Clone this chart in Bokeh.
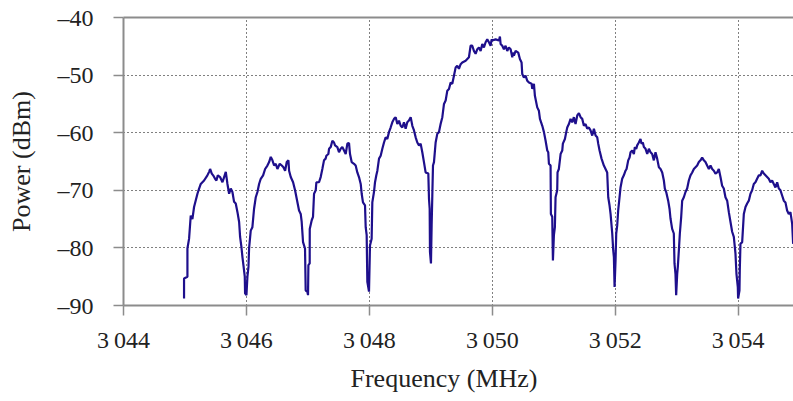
from bokeh.plotting import figure
from bokeh.models import Range1d, LinearAxis, FixedTicker, CustomJSTickFormatter, Title
from bokeh.embed import file_html
from bokeh.resources import INLINE

# ---- data: spectrum trace, (frequency MHz, power dBm) ----
trace_3045_3047 = [
    (3044.985, -88.8), (3044.985, -85.3), (3045.040, -85.0), (3045.040, -80.1), (3045.067, -78.4),
    (3045.094, -74.4), (3045.121, -75.0), (3045.148, -72.9), (3045.203, -70.6), (3045.230, -69.7),
    (3045.257, -68.9), (3045.311, -68.3), (3045.365, -67.4), (3045.393, -66.8), (3045.409, -66.3),
    (3045.436, -67.1), (3045.458, -67.4), (3045.490, -68.0), (3045.512, -68.3), (3045.534, -67.4),
    (3045.571, -67.7), (3045.610, -68.6), (3045.637, -67.7), (3045.664, -66.8), (3045.691, -68.9),
    (3045.718, -70.6), (3045.745, -69.7), (3045.772, -70.3), (3045.799, -72.0), (3045.826, -72.3),
    (3045.854, -73.8), (3045.881, -75.5), (3045.897, -78.1), (3045.918, -79.8), (3045.935, -81.6),
    (3045.951, -83.0), (3045.973, -85.0), (3045.978, -87.9), (3046.000, -88.2), (3046.016, -85.0),
    (3046.033, -83.3), (3046.043, -80.1), (3046.070, -77.0), (3046.097, -76.4), (3046.124, -73.2),
    (3046.152, -71.2), (3046.179, -70.3), (3046.206, -68.9), (3046.233, -68.0), (3046.271, -67.4),
    (3046.304, -66.3), (3046.341, -65.7), (3046.369, -65.1), (3046.396, -64.2), (3046.423, -64.8),
    (3046.450, -65.7), (3046.477, -65.4), (3046.504, -66.3), (3046.542, -65.4), (3046.575, -65.7),
    (3046.602, -66.0), (3046.629, -66.6), (3046.656, -65.1), (3046.683, -64.8), (3046.694, -66.6),
    (3046.721, -67.7), (3046.759, -68.6), (3046.791, -70.0),
]
trace_3047_3049 = [
    (3046.856, -73.5), (3046.883, -74.1), (3046.899, -75.5), (3046.921, -79.0), (3046.953, -80.1),
    (3046.964, -87.4), (3046.991, -87.6), (3047.002, -88.2), (3047.008, -83.0), (3047.029, -82.7),
    (3047.030, -76.7), (3047.062, -75.2), (3047.083, -74.6), (3047.100, -70.6), (3047.127, -70.0),
    (3047.138, -68.6), (3047.181, -68.6), (3047.208, -67.7), (3047.235, -66.3), (3047.262, -64.8),
    (3047.289, -64.5), (3047.300, -64.0), (3047.333, -63.7), (3047.344, -62.8), (3047.371, -62.5),
    (3047.398, -61.4), (3047.425, -61.7), (3047.441, -62.2), (3047.479, -62.5), (3047.506, -63.4),
    (3047.533, -62.8), (3047.560, -62.5), (3047.588, -63.1), (3047.615, -63.7), (3047.642, -61.9),
    (3047.669, -61.8), (3047.685, -63.7), (3047.712, -65.1), (3047.750, -65.4), (3047.777, -65.7),
    (3047.804, -66.9), (3047.831, -67.7), (3047.859, -68.9), (3047.875, -70.6), (3047.896, -72.1),
    (3047.929, -72.6), (3047.940, -76.4), (3047.956, -77.8), (3047.967, -85.9), (3047.994, -87.6),
    (3048.010, -79.6), (3048.037, -78.4), (3048.048, -72.1), (3048.075, -70.3), (3048.092, -68.6),
    (3048.113, -67.4), (3048.130, -66.6), (3048.157, -64.5), (3048.184, -64.0), (3048.211, -62.8),
    (3048.238, -61.7), (3048.265, -60.8), (3048.292, -61.1), (3048.319, -59.9), (3048.346, -59.1),
    (3048.373, -58.2), (3048.401, -57.6), (3048.428, -57.3), (3048.455, -58.5), (3048.482, -57.9),
    (3048.509, -58.8), (3048.536, -59.1), (3048.563, -58.2), (3048.590, -59.3), (3048.617, -58.2),
    (3048.644, -57.9), (3048.672, -57.3), (3048.699, -58.8), (3048.726, -59.6), (3048.753, -60.8),
    (3048.780, -61.7), (3048.807, -62.2), (3048.834, -61.9), (3048.861, -63.4), (3048.888, -65.1),
    (3048.915, -66.9),
]
trace_3049_3051 = [
    (3048.959, -67.1), (3048.970, -71.5), (3048.981, -73.2), (3048.986, -80.7), (3049.002, -82.7),
    (3049.013, -76.1), (3049.024, -70.9), (3049.035, -65.7), (3049.051, -65.1), (3049.078, -61.7),
    (3049.105, -60.2), (3049.132, -59.9), (3049.159, -58.5), (3049.187, -57.3), (3049.214, -55.0),
    (3049.241, -54.4), (3049.268, -52.7), (3049.295, -52.4), (3049.322, -51.3), (3049.349, -51.5),
    (3049.376, -50.1), (3049.403, -48.7), (3049.430, -48.4), (3049.457, -48.9), (3049.485, -48.1),
    (3049.512, -47.8), (3049.566, -47.5), (3049.620, -46.9), (3049.647, -44.9), (3049.674, -44.9),
    (3049.701, -45.8), (3049.728, -46.3), (3049.756, -45.5), (3049.783, -45.2), (3049.810, -45.8),
    (3049.837, -44.6), (3049.864, -45.2), (3049.891, -44.3), (3049.918, -43.8), (3049.945, -44.3),
    (3049.972, -44.9), (3049.989, -43.8), (3049.999, -44.0), (3050.054, -43.8), (3050.108, -44.0),
    (3050.124, -43.3), (3050.135, -44.6), (3050.162, -44.9), (3050.189, -45.5), (3050.216, -44.9),
    (3050.243, -45.8), (3050.270, -45.2), (3050.298, -45.5), (3050.325, -46.9), (3050.335, -46.1),
    (3050.352, -46.6), (3050.379, -45.8), (3050.422, -46.1), (3050.449, -47.2), (3050.476, -47.8),
    (3050.487, -49.8), (3050.514, -50.4), (3050.541, -50.1), (3050.569, -51.0), (3050.596, -51.3),
    (3050.639, -51.5), (3050.650, -52.4), (3050.677, -51.5), (3050.693, -53.6), (3050.731, -55.6),
    (3050.758, -56.2), (3050.775, -57.6), (3050.813, -58.8), (3050.840, -59.9), (3050.867, -61.4),
    (3050.894, -63.1), (3050.910, -63.4), (3050.921, -65.4), (3050.948, -65.7), (3050.953, -74.1),
    (3050.975, -74.6), (3050.986, -82.2), (3051.002, -77.8), (3051.018, -76.4), (3051.029, -71.2),
    (3051.056, -70.0), (3051.061, -66.9), (3051.083, -66.3),
]
trace_3051_3053 = [
    (3051.111, -63.7), (3051.138, -63.1), (3051.148, -61.9), (3051.181, -61.1), (3051.203, -59.9),
    (3051.219, -59.1), (3051.246, -58.5), (3051.273, -57.6), (3051.300, -58.2), (3051.327, -57.3),
    (3051.354, -58.5), (3051.382, -57.0), (3051.409, -56.6), (3051.436, -57.3), (3051.463, -57.6),
    (3051.490, -58.8), (3051.517, -58.5), (3051.544, -59.3), (3051.571, -59.1), (3051.598, -59.6),
    (3051.626, -60.5), (3051.653, -59.3), (3051.680, -60.5), (3051.707, -60.8), (3051.723, -61.9),
    (3051.745, -63.1), (3051.777, -64.5), (3051.815, -65.7), (3051.842, -66.3), (3051.869, -66.9),
    (3051.886, -71.2), (3051.907, -72.6), (3051.924, -74.1), (3051.951, -77.5), (3051.967, -80.4),
    (3051.978, -81.6), (3051.989, -86.8), (3052.005, -82.2), (3052.016, -77.5), (3052.032, -76.1),
    (3052.048, -73.5), (3052.070, -71.2), (3052.086, -69.5), (3052.113, -68.0), (3052.140, -67.4),
    (3052.167, -66.6), (3052.184, -66.3), (3052.211, -64.8), (3052.233, -64.3), (3052.249, -63.4),
    (3052.276, -63.1), (3052.303, -63.7), (3052.319, -62.5), (3052.341, -62.8), (3052.357, -62.2),
    (3052.384, -61.7), (3052.411, -61.1), (3052.428, -61.9), (3052.449, -61.7), (3052.466, -62.5),
    (3052.493, -62.8), (3052.520, -63.7), (3052.547, -62.8), (3052.574, -63.4), (3052.601, -63.7),
    (3052.628, -64.8), (3052.655, -63.4), (3052.682, -64.5), (3052.710, -66.0), (3052.737, -66.3),
    (3052.764, -66.9), (3052.791, -68.3), (3052.807, -69.7), (3052.829, -70.3), (3052.861, -71.8),
    (3052.883, -73.2),
]
trace_3053_3055 = [
    (3052.899, -74.9), (3052.926, -76.7), (3052.953, -77.5), (3052.964, -82.7), (3052.980, -84.5),
    (3052.991, -88.2), (3053.008, -84.5), (3053.018, -83.3), (3053.035, -80.4), (3053.051, -77.5),
    (3053.073, -74.6), (3053.089, -71.8), (3053.116, -71.2), (3053.143, -70.3), (3053.170, -69.7),
    (3053.197, -68.3), (3053.224, -67.4), (3053.252, -66.9), (3053.279, -66.3), (3053.306, -66.0),
    (3053.333, -65.7), (3053.360, -65.1), (3053.387, -64.8), (3053.414, -64.3), (3053.441, -64.8),
    (3053.468, -65.1), (3053.495, -65.7), (3053.523, -66.3), (3053.550, -65.7), (3053.577, -66.3),
    (3053.604, -66.6), (3053.631, -67.1), (3053.658, -66.9), (3053.685, -66.3), (3053.712, -67.7),
    (3053.739, -69.2), (3053.766, -69.7), (3053.793, -71.2), (3053.821, -71.8), (3053.848, -73.8),
    (3053.875, -75.5), (3053.902, -77.2), (3053.929, -78.1), (3053.956, -81.0), (3053.972, -84.5),
    (3053.994, -86.8), (3053.999, -88.8), (3054.021, -87.4), (3054.026, -83.9), (3054.037, -79.3),
    (3054.065, -79.0), (3054.092, -74.1), (3054.119, -72.9), (3054.146, -72.3), (3054.173, -71.8),
    (3054.200, -70.6), (3054.227, -70.0), (3054.254, -68.9), (3054.281, -68.6), (3054.308, -68.0),
    (3054.336, -67.4), (3054.363, -67.4), (3054.390, -66.6), (3054.417, -67.1), (3054.444, -67.4),
    (3054.471, -67.7), (3054.498, -68.0), (3054.525, -68.6), (3054.552, -68.3), (3054.579, -68.9),
    (3054.606, -69.5), (3054.634, -68.6), (3054.661, -69.7), (3054.688, -70.0), (3054.715, -70.9),
    (3054.742, -71.8), (3054.769, -72.1), (3054.796, -73.5), (3054.823, -74.1), (3054.850, -73.8),
    (3054.878, -75.8), (3054.894, -79.3),
]

x_ticks = [3044, 3046, 3048, 3050, 3052, 3054]
y_ticks = [-90, -80, -70, -60, -50, -40]
x_title = "Frequency (MHz)"
y_title = "Power (dBm)"

segments = [trace_3045_3047, trace_3047_3049, trace_3049_3051, trace_3051_3053, trace_3053_3055]
freq = [f for seg in segments for f, _ in seg]
power = [v for seg in segments for _, v in seg]

FONT = "Liberation Serif"
TEXT = "#222222"
AXIS = "#8c8c8c"

p = figure(width=793, height=401, output_backend="svg", toolbar_location=None,
           x_range=Range1d(3044, 3054.9), y_range=Range1d(-90, -40),
           min_border_left=123, min_border_right=0, min_border_top=17, min_border_bottom=96)
p.outline_line_color = None
p.background_fill_color = "white"
p.border_fill_color = "white"

p.line(freq, power, line_color="#1e0f8c", line_width=2.2)

for ax in (p.xaxis[0], p.yaxis[0]):
    ax.axis_line_color = AXIS
    ax.axis_line_width = 2
    ax.major_tick_line_color = AXIS
    ax.major_tick_line_width = 1.5
    ax.major_tick_out = 10
    ax.major_tick_in = 0
    ax.minor_tick_line_color = None
    ax.major_label_text_font = FONT
    ax.major_label_text_font_size = "24px"
    ax.major_label_text_color = TEXT

p.xaxis.ticker = FixedTicker(ticks=x_ticks)
p.yaxis.ticker = FixedTicker(ticks=y_ticks)
p.xaxis.formatter = CustomJSTickFormatter(code='return "3\\u2009" + String(Math.round(tick) - 3000).padStart(3, "0");')
p.yaxis.formatter = CustomJSTickFormatter(code='return tick < 0 ? "\\u2013" + Math.abs(tick) : String(tick);')
p.xaxis.major_label_standoff = 11
p.yaxis.major_label_standoff = 20

p.yaxis.axis_label = y_title
p.yaxis.axis_label_text_font = FONT
p.yaxis.axis_label_text_font_size = "26px"
p.yaxis.axis_label_text_font_style = "normal"
p.yaxis.axis_label_text_color = TEXT
p.yaxis.axis_label_standoff = 19

top = LinearAxis(ticker=FixedTicker(ticks=[]), axis_line_color=AXIS, axis_line_width=2,
                 major_tick_out=0, major_tick_in=0, minor_tick_out=0, minor_tick_in=0,
                 major_label_text_font_size="0px")
p.add_layout(top, "above")

xt = Title(text=x_title, align="left", offset=227, text_font=FONT, text_font_size="26px",
           text_font_style="normal", text_color=TEXT, standoff=12)
p.add_layout(xt, "below")

p.xgrid.ticker = FixedTicker(ticks=x_ticks)
p.ygrid.ticker = FixedTicker(ticks=y_ticks)
for g in (p.xgrid[0], p.ygrid[0]):
    g.grid_line_color = "black"
    g.grid_line_dash = "1 3"
    g.grid_line_width = 1

open("out.html", "w").write(file_html(p, INLINE))
